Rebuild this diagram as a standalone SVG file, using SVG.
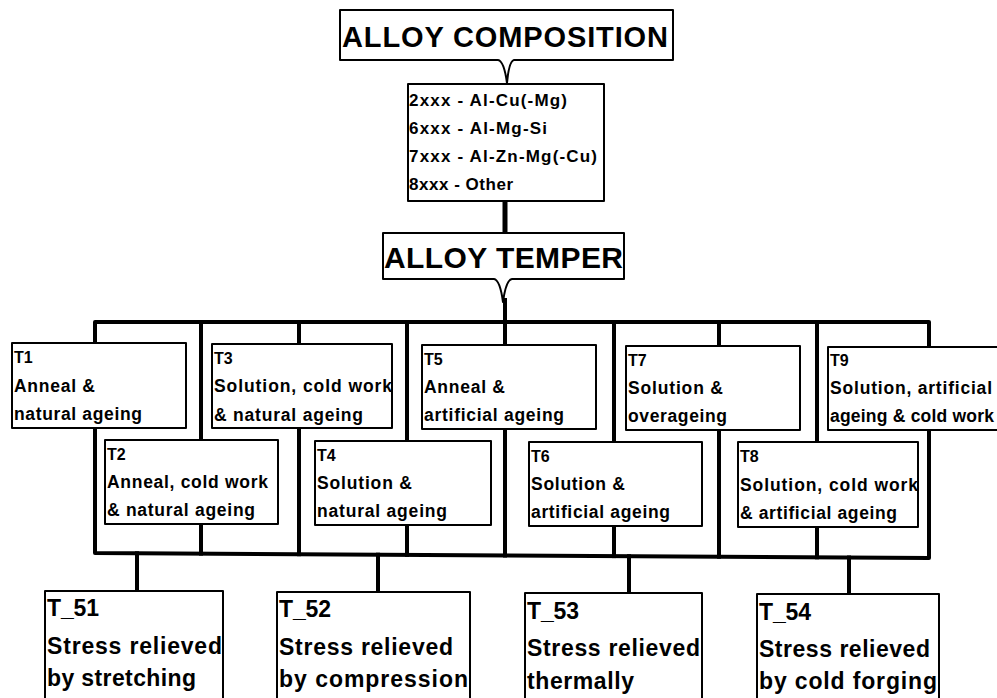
<svg xmlns="http://www.w3.org/2000/svg" width="997" height="698" viewBox="0 0 997 698">
  <style>
    .box { fill: #fff; stroke: #000; stroke-width: 2; stroke-linejoin: round; }
    .wire { fill: none; stroke: #000; stroke-width: 4; stroke-linejoin: round; stroke-linecap: square; }
    text { font-family: "Liberation Sans", Arial, Helvetica, sans-serif; font-weight: bold; fill: #000; }
    .head { font-size: 29px; }
    .comp { font-size: 17px; }
    .tt { font-size: 17.5px; }
    .lbl { font-size: 16px; }
    .sub { font-size: 23px; }
  </style>
  <rect width="997" height="698" fill="#fff"/>

  <!-- connectors -->
  <g id="connectors">
    <line class="wire" x1="505" y1="202" x2="505" y2="232" style="stroke-width:5"/>
    <line class="wire" x1="505" y1="300" x2="505" y2="322"/>
    <!-- temper frame -->
    <path class="wire" d="M95,553 V322 H929 V558 Z"/>
    <line class="wire" x1="201" y1="322" x2="201" y2="553.6"/>
    <line class="wire" x1="299" y1="322" x2="299" y2="554.2"/>
    <line class="wire" x1="407" y1="322" x2="407" y2="554.9"/>
    <line class="wire" x1="505" y1="322" x2="505" y2="555.5"/>
    <line class="wire" x1="614" y1="322" x2="614" y2="556.1"/>
    <line class="wire" x1="719" y1="322" x2="719" y2="556.7"/>
    <line class="wire" x1="817" y1="322" x2="817" y2="557.3"/>
    <!-- drops to T5x variants -->
    <line class="wire" x1="137" y1="553.3" x2="137" y2="591"/>
    <line class="wire" x1="378" y1="554.7" x2="378" y2="592"/>
    <line class="wire" x1="629" y1="556.2" x2="629" y2="593"/>
    <line class="wire" x1="849" y1="557.5" x2="849" y2="594"/>
  </g>

  <g id="alloy-composition">
    <path class="box" d="M340,10 H673 V60 H514 Q509,61 507,83 Q504,61 498,60 H340 Z"/>
    <text class="head" x="342" y="47" textLength="326">ALLOY COMPOSITION</text>
  </g>

  <g id="series">
    <rect class="box" x="408" y="84" width="196" height="117"/>
    <text class="comp" x="409" y="106" textLength="158">2xxx - Al-Cu(-Mg)</text>
    <text class="comp" x="409" y="134" textLength="138">6xxx - Al-Mg-Si</text>
    <text class="comp" x="409" y="162" textLength="188">7xxx - Al-Zn-Mg(-Cu)</text>
    <text class="comp" x="409" y="190" textLength="104">8xxx - Other</text>
  </g>

  <g id="alloy-temper">
    <path class="box" d="M383,233 H624 V279 H512 Q506,280 503,302 Q500,280 494,279 H383 Z"/>
    <text class="head" x="384" y="268" textLength="239" style="font-size:30px">ALLOY TEMPER</text>
  </g>

  <g id="T1">
    <rect class="box" x="12" y="343" width="174" height="85"/>
    <text class="lbl" x="14" y="363">T1</text>
    <text class="tt" x="14" y="392" textLength="81">Anneal &amp;</text>
    <text class="tt" x="14" y="420" textLength="128">natural ageing</text>
  </g>
  <g id="T2">
    <rect class="box" x="105" y="440" width="173" height="84"/>
    <text class="lbl" x="107" y="460">T2</text>
    <text class="tt" x="107" y="488" textLength="161">Anneal, cold work</text>
    <text class="tt" x="107" y="516" textLength="148">&amp; natural ageing</text>
  </g>
  <g id="T3">
    <rect class="box" x="212" y="344" width="180" height="84"/>
    <text class="lbl" x="214" y="364">T3</text>
    <text class="tt" x="214" y="392" textLength="178">Solution, cold work</text>
    <text class="tt" x="214" y="421" textLength="149">&amp; natural ageing</text>
  </g>
  <g id="T4">
    <rect class="box" x="315" y="441" width="176" height="84"/>
    <text class="lbl" x="317" y="461">T4</text>
    <text class="tt" x="317" y="489" textLength="95">Solution &amp;</text>
    <text class="tt" x="317" y="517" textLength="130">natural ageing</text>
  </g>
  <g id="T5">
    <rect class="box" x="422" y="345" width="174" height="84"/>
    <text class="lbl" x="424" y="365">T5</text>
    <text class="tt" x="424" y="393" textLength="81">Anneal &amp;</text>
    <text class="tt" x="424" y="421" textLength="140">artificial ageing</text>
  </g>
  <g id="T6">
    <rect class="box" x="529" y="442" width="173" height="84"/>
    <text class="lbl" x="531" y="462">T6</text>
    <text class="tt" x="531" y="490" textLength="94">Solution &amp;</text>
    <text class="tt" x="531" y="518" textLength="139">artificial ageing</text>
  </g>
  <g id="T7">
    <rect class="box" x="626" y="346" width="174" height="84"/>
    <text class="lbl" x="628" y="366">T7</text>
    <text class="tt" x="628" y="394" textLength="95">Solution &amp;</text>
    <text class="tt" x="628" y="422" textLength="99">overageing</text>
  </g>
  <g id="T8">
    <rect class="box" x="738" y="442" width="180" height="85"/>
    <text class="lbl" x="740" y="462">T8</text>
    <text class="tt" x="740" y="491" textLength="178">Solution, cold work</text>
    <text class="tt" x="740" y="519" textLength="157">&amp; artificial ageing</text>
  </g>
  <g id="T9">
    <rect class="box" x="828" y="347" width="185" height="83"/>
    <text class="lbl" x="830" y="366">T9</text>
    <text class="tt" x="830" y="394" textLength="162">Solution, artificial</text>
    <text class="tt" x="830" y="422" textLength="164">ageing &amp; cold work</text>
  </g>

  <g id="T51">
    <rect class="box" x="45" y="591" width="178" height="130"/>
    <text class="sub" x="47" y="616" textLength="52">T_51</text>
    <text class="sub" x="47" y="654" textLength="175">Stress relieved</text>
    <text class="sub" x="47" y="686" textLength="149">by stretching</text>
  </g>
  <g id="T52">
    <rect class="box" x="277" y="592" width="193" height="130"/>
    <text class="sub" x="279" y="617" textLength="52">T_52</text>
    <text class="sub" x="279" y="655" textLength="174">Stress relieved</text>
    <text class="sub" x="279" y="687" textLength="189">by compression</text>
  </g>
  <g id="T53">
    <rect class="box" x="525" y="593" width="177" height="130"/>
    <text class="sub" x="527" y="619" textLength="52">T_53</text>
    <text class="sub" x="527" y="656" textLength="173">Stress relieved</text>
    <text class="sub" x="527" y="689" textLength="107">thermally</text>
  </g>
  <g id="T54">
    <rect class="box" x="757" y="594" width="182" height="130"/>
    <text class="sub" x="759" y="620" textLength="52">T_54</text>
    <text class="sub" x="759" y="657" textLength="171">Stress relieved</text>
    <text class="sub" x="759" y="689" textLength="178">by cold forging</text>
  </g>
</svg>
